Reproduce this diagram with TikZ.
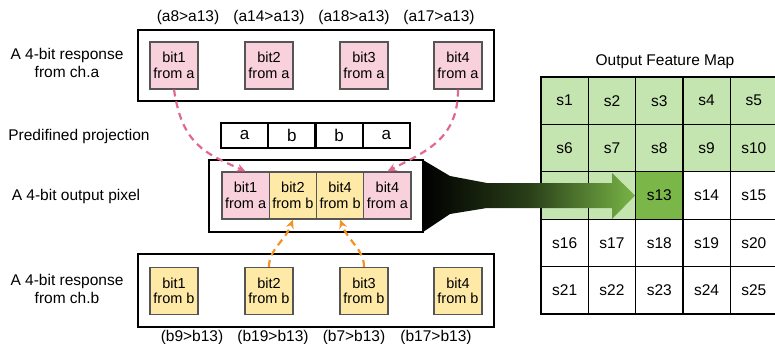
\documentclass[tikz,border=0pt]{standalone}
\usepackage{fontspec}
\setmainfont{Liberation Sans}
\usetikzlibrary{arrows.meta}

\definecolor{pinkfill}{RGB}{249,209,221}
\definecolor{yellowfill}{RGB}{254,234,166}
\definecolor{bitline}{RGB}{85,85,85}
\definecolor{pinkline}{RGB}{226,104,144}
\definecolor{orangeline}{RGB}{244,146,36}
\definecolor{lightgreen}{RGB}{197,229,176}
\definecolor{darkgreen}{RGB}{122,182,72}
\definecolor{arrowgreen}{RGB}{120,180,70}

\tikzset{
  lbl/.style={font=\fontsize{15.5}{18}\selectfont, align=center, inner sep=0pt},
  outerbox/.style={draw=black, line width=2.6pt, fill=white, inner sep=0pt},
  bitbox/.style={draw=bitline, line width=1.1pt, minimum width=48pt, minimum height=47pt,
    inner sep=0pt, align=center, font=\fontsize{14.5}{15.5}\selectfont},
  bita/.style={bitbox, fill=pinkfill},
  bitb/.style={bitbox, fill=yellowfill},
  projcell/.style={draw=black, line width=2pt, minimum width=47.25pt, minimum height=25pt,
    inner sep=0pt, font=\fontsize{17}{18}\selectfont},
  mapcell/.style={draw=black, line width=1.2pt, minimum width=47.3pt, minimum height=47.4pt,
    inner sep=0pt, font=\fontsize{15.5}{18}\selectfont},
  pinkarrow/.style={draw=pinkline, line width=2.2pt, dash pattern=on 7pt off 5pt,
    -{Stealth[length=9pt,width=8pt]}},
  orangearrow/.style={draw=orangeline, line width=2.2pt, dash pattern=on 7pt off 5pt,
    -{Stealth[length=9pt,width=8pt]}},
}

\begin{document}
\begin{tikzpicture}[x=1pt,y=-1pt]
\useasboundingbox (0,0) rectangle (775,343);

% ---- output feature map ----
\node[lbl] (maptitle) at (665,62) {Output Feature Map};
\foreach \k in {1,...,25} {
  \pgfmathtruncatemacro\r{int((\k-1)/5)}
  \pgfmathtruncatemacro\c{mod(\k-1,5)}
  \ifnum\k<13 \def\cf{lightgreen}\else\ifnum\k=13 \def\cf{darkgreen}\else\def\cf{white}\fi\fi
  \node[mapcell, fill=\cf] (s\k) at ({564.65+47.3*\c},{100.7+47.4*\r})
    {\ifnum\k=11 \else\ifnum\k=12 \else s\k\fi\fi};
}

% ---- funnel arrow into s13 ----
\shade[left color=black, right color=arrowgreen, middle color=black!65!arrowgreen]
  (423,160) -- (450,176) -- (487,183) -- (612,183) -- (612,173) -- (s13.west)
  -- (612,219) -- (612,208) -- (487,208) -- (450,214) -- (423,232) -- cycle;

% ---- channel a ----
\node[outerbox, minimum width=356pt, minimum height=71pt] (boxa) at (316,65.5) {};
\node[bita] (a1) at (174,65.5) {bit1\\from a};
\node[bita] (a2) at (269,65.5) {bit2\\from a};
\node[bita] (a3) at (364,65.5) {bit3\\from a};
\node[bita] (a4) at (458,65.5) {bit4\\from a};
\node[lbl] (ca1) at (188,17) {(a8>a13)};
\node[lbl] (ca2) at (269,17) {(a14>a13)};
\node[lbl] (ca3) at (354,17) {(a18>a13)};
\node[lbl] (ca4) at (439,17) {(a17>a13)};
\node[lbl] (labela) at (67,63) {A 4-bit response\\from ch.a};

% ---- projection ----
\node[lbl] (labelp) at (79,136) {Predifined projection};
\node[projcell] (p1) at (244.6,135.5) {a};
\node[projcell] (p2) at (291.9,135.5) {b};
\node[projcell] (p3) at (339.1,135.5) {b};
\node[projcell] (p4) at (386.4,135.5) {a};

% ---- output pixel ----
\node[lbl] (labelo) at (76,196) {A 4-bit output pixel};
\node[outerbox, minimum width=214pt, minimum height=72pt] (outpix) at (316,196) {};
\node[bita, minimum width=47.25pt] (o1) at (245.6,195.5) {bit1\\from a};
\node[bitb, minimum width=47.25pt] (o2) at (292.9,195.5) {bit2\\from b};
\node[bitb, minimum width=47.25pt] (o3) at (340.1,195.5) {bit4\\from b};
\node[bita, minimum width=47.25pt] (o4) at (387.4,195.5) {bit4\\from a};

% ---- channel b ----
\node[outerbox, minimum width=356pt, minimum height=73pt] (boxb) at (316,290.5) {};
\node[bitb] (b1) at (174,291) {bit1\\from b};
\node[bitb] (b2) at (269,291) {bit2\\from b};
\node[bitb] (b3) at (364,291) {bit3\\from b};
\node[bitb] (b4) at (458,291) {bit4\\from b};
\node[lbl] (cb1) at (192,337) {(b9>b13)};
\node[lbl] (cb2) at (273,337) {(b19>b13)};
\node[lbl] (cb3) at (354,337) {(b7>b13)};
\node[lbl] (cb4) at (436,337) {(b17>b13)};
\node[lbl] (labelb) at (67,289) {A 4-bit response\\from ch.b};

% ---- bit routing ----
\draw[pinkarrow] (a1.south) .. controls +(8,55) and +(-40,-18) .. (o1.north);
\draw[pinkarrow] (a4.south) .. controls +(0,50) and +(38,-20) .. (o4.north);
\draw[orangearrow] (b2.north) .. controls +(0,-18) and +(-8,22) .. (o2.south);
\draw[orangearrow] (b3.north) .. controls +(0,-18) and +(8,22) .. (o3.south);
\end{tikzpicture}
\end{document}
